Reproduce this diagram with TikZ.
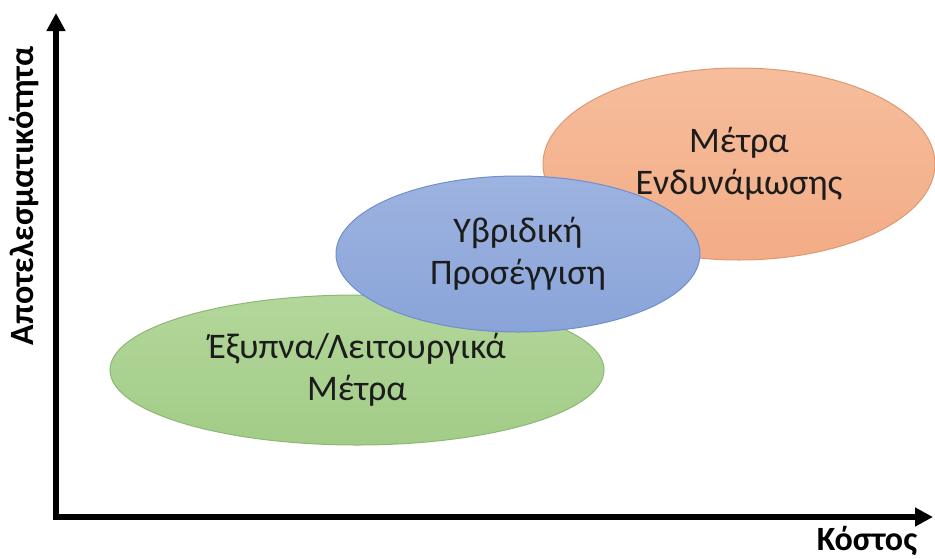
\documentclass[tikz,border=0pt]{standalone}
\usepackage{fontspec}
\setmainfont{Carlito}
\usetikzlibrary{shapes.geometric,arrows.meta}
\definecolor{greentop}{HTML}{B3D79B}
\definecolor{greenbot}{HTML}{A2CC87}
\definecolor{greenline}{HTML}{8DB873}
\definecolor{bluetop}{HTML}{9DB3E0}
\definecolor{bluebot}{HTML}{8AA4D9}
\definecolor{blueline}{HTML}{6F8ECB}
\definecolor{orangetop}{HTML}{F6BD9C}
\definecolor{orangebot}{HTML}{F3AC86}
\definecolor{orangeline}{HTML}{DC9A74}
\definecolor{textdark}{HTML}{1C1C1C}
\tikzset{
  region/.style={ellipse, inner sep=0pt, draw, line width=1pt, text=textdark,
    align=center, font=\fontsize{36}{42}\selectfont},
  axislabel/.style={font=\fontsize{34}{40}\selectfont\bfseries},
  axistip/.tip={Triangle[width=18pt,length=18pt]}
}
\begin{document}
\begin{tikzpicture}[x=1pt,y=-1pt]
\useasboundingbox (0,0) rectangle (935,558);
% axes
\coordinate (ytip) at (56,13);
\coordinate (origin) at (56,517);
\coordinate (xtip) at (933,517);
\draw[line width=6pt, line join=miter, axistip-axistip] (ytip) -- (origin) -- (xtip);
\node[axislabel, rotate=90] (ylabel) at (24,196) {Αποτελεσματικότητα};
\node[axislabel] (xlabel) at (867,541) {Κόστος};
% regions
\node[region, minimum width=494pt, minimum height=150pt, top color=greentop, bottom color=greenbot, draw=greenline] (smart) at (357,370) {Έξυπνα/Λειτουργικά\\Μέτρα};
\node[region, minimum width=392pt, minimum height=192pt, top color=orangetop, bottom color=orangebot, draw=orangeline] (strength) at (739,164) {Μέτρα\\Ενδυνάμωσης};
\node[region, minimum width=364pt, minimum height=156pt, top color=bluetop, bottom color=bluebot, draw=blueline] (hybrid) at (518,254) {Υβριδική\\Προσέγγιση};
\end{tikzpicture}
\end{document}
